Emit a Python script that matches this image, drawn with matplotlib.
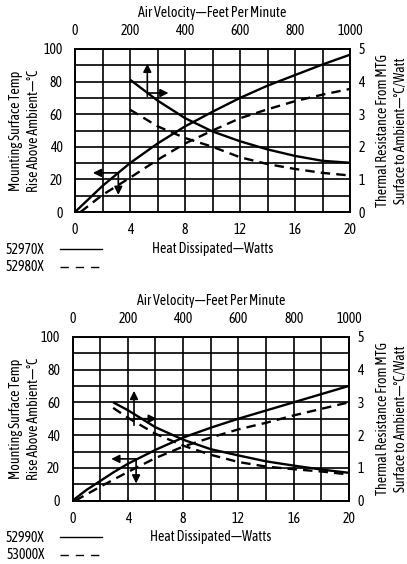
import matplotlib
matplotlib.use("Agg")
import matplotlib.pyplot as plt

plt.rcParams['font.family'] = ['Asap Condensed', 'Archivo Narrow', 'DejaVu Sans']
plt.rcParams['font.size'] = 10

# axis ticks
watt_ticks = [0, 4, 8, 12, 16, 20]
temp_ticks = [0, 20, 40, 60, 80, 100]
fpm_ticks = [0, 200, 400, 600, 800, 1000]
res_ticks = [0, 1, 2, 3, 4, 5]

# top chart: 52970X (solid) / 52980X (dashed)
top_names = ["52970X", "52980X"]
top_watts_a = [0, 1, 2, 3, 4, 6, 8, 10, 12, 14, 16, 18, 20]
top_temp_a = [0, 8, 16, 23, 30, 42, 52.5, 61.5, 70, 77.5, 84, 90.5, 96.5]
top_watts_b = [0.4, 2, 4, 6, 8, 10, 12, 14, 16, 18, 20]
top_temp_b = [0, 10.5, 21, 32, 42, 50, 57.5, 63, 68, 72, 75.5]
top_fpm_a = [200, 300, 400, 500, 600, 700, 800, 900, 1000]
top_res_a = [4.06, 3.42, 2.88, 2.47, 2.17, 1.92, 1.72, 1.57, 1.51]
top_fpm_b = [200, 300, 400, 500, 600, 700, 800, 900, 1000]
top_res_b = [3.14, 2.63, 2.27, 2.0, 1.68, 1.47, 1.32, 1.2, 1.12]

# bottom chart: 52990X (solid) / 53000X (dashed)
bot_names = ["52990X", "53000X"]
bot_watts_a = [0, 1, 2, 3, 4, 6, 8, 10, 12, 14, 16, 18, 20]
bot_temp_a = [0, 6.5, 12, 17.5, 22.5, 31, 38.5, 44.5, 50, 55, 60, 65, 70]
bot_watts_b = [0.2, 2, 4, 6, 8, 10, 12, 14, 16, 18, 20]
bot_temp_b = [0, 8.5, 17.5, 26, 33, 38.5, 43.5, 47.5, 52, 56, 60]
bot_fpm_a = [147, 200, 300, 400, 500, 600, 700, 800, 900, 1000]
bot_res_a = [3.0, 2.76, 2.24, 1.86, 1.57, 1.38, 1.2, 1.07, 0.95, 0.85]
bot_fpm_b = [147, 200, 300, 400, 500, 600, 700, 800, 900, 1000]
bot_res_b = [2.83, 2.53, 2.04, 1.68, 1.4, 1.18, 1.04, 0.96, 0.89, 0.8]

# pointer arrows (watts, temp): corner, vertical tip, horizontal tip
top_res_arrow = [(5.26, 71), (5.26, 91), (6.8, 73)]
top_temp_arrow = [(3.15, 24), (3.15, 10.5), (1.3, 24)]
bot_res_arrow = [(4.45, 46), (4.45, 67), (6.1, 50)]
bot_temp_arrow = [(4.6, 25.5), (4.6, 10.5), (2.8, 25.5)]

W, H = 407, 564
fig = plt.figure(figsize=(W / 100, H / 100), dpi=100)
fig.patch.set_facecolor("white")

DASH = (0, (4, 2.6))
FS = 10


def fx(px):
    return px / W


def fy(py):
    return 1 - py / H


def arrow(ax, start, tip):
    ax.annotate("", xy=tip, xytext=start,
                arrowprops=dict(arrowstyle="-|>", lw=1.2, color="k",
                                mutation_scale=12, shrinkA=0, shrinkB=0))


def panel(box, watts_a, temp_a, watts_b, temp_b, fpm_a, res_a, fpm_b, res_b,
          res_arrow, temp_arrow, names, title_y, xlabel_y):
    left, top, right, bottom = box
    ax = fig.add_axes([fx(left), fy(bottom), fx(right - left), (bottom - top) / H])
    ax.set_xlim(0, 20)
    ax.set_ylim(0, 100)
    ax.set_xticks(range(0, 21, 2))
    ax.set_xticklabels([str(v) if v in watt_ticks else "" for v in range(0, 21, 2)])
    ax.set_yticks(range(0, 101, 10))
    ax.set_yticklabels([str(v) if v in temp_ticks else "" for v in range(0, 101, 10)])
    ax.grid(True, color="k", lw=1.2)
    ax.tick_params(length=0, labelsize=FS)
    ax.tick_params(axis="y", pad=9)
    ax.tick_params(axis="x", pad=8)
    for s in ax.spines.values():
        s.set_linewidth(1.4)

    axr = ax.twinx()
    axr.set_ylim(0, 5)
    axr.set_yticks(res_ticks)
    axr.tick_params(length=0, pad=6, labelsize=FS)
    axt = axr.twiny()
    axt.set_xlim(0, 1000)
    axt.set_xticks(fpm_ticks)
    axt.tick_params(length=0, pad=8, labelsize=FS)
    for a in (axr, axt):
        for s in a.spines.values():
            s.set_visible(False)

    ax.plot(watts_a, temp_a, color="k", lw=1.7, solid_capstyle="butt")
    ax.plot(watts_b, temp_b, color="k", lw=1.7, linestyle=DASH)
    axt.plot(fpm_a, res_a, color="k", lw=1.7, solid_capstyle="butt")
    axt.plot(fpm_b, res_b, color="k", lw=1.7, linestyle=DASH)

    arrow(ax, res_arrow[0], res_arrow[1])
    arrow(ax, (res_arrow[0][0], res_arrow[2][1]), res_arrow[2])
    arrow(ax, temp_arrow[0], temp_arrow[1])
    arrow(ax, temp_arrow[0], temp_arrow[2])

    cx = (left + right) / 2
    cy = (top + bottom) / 2
    fig.text(fx(cx), fy(title_y), "Air Velocity\u2014Feet Per Minute",
             ha="center", va="center", fontsize=FS)
    fig.text(fx(cx), fy(xlabel_y), "Heat Dissipated\u2014Watts",
             ha="center", va="center", fontsize=FS)
    fig.text(fx(25), fy(cy), "Mounting Surface Temp\nRise Above Ambient\u2014\u00b0C",
             ha="center", va="center", rotation=90, fontsize=FS, linespacing=1.35)
    fig.text(fx(392), fy(cy), "Thermal Resistance From MTG\nSurface to Ambient\u2014\u00b0C/Watt",
             ha="center", va="center", rotation=90, fontsize=FS, linespacing=1.35)

    handles = [plt.Line2D([], [], color="k", lw=1.0),
               plt.Line2D([], [], color="k", lw=1.0, linestyle=(0, (6, 5)))]
    fig.legend(handles, names, loc="upper left", markerfirst=False,
               bbox_to_anchor=(fx(6), fy(xlabel_y - 6)), frameon=False,
               fontsize=FS, handlelength=3.0, handletextpad=1.1,
               labelspacing=0.25, borderaxespad=0, borderpad=0)


panel((75, 49, 350, 212), top_watts_a, top_temp_a, top_watts_b, top_temp_b,
      top_fpm_a, top_res_a, top_fpm_b, top_res_b,
      top_res_arrow, top_temp_arrow, top_names, 13, 249)
panel((72.5, 336.7, 349, 500.7), bot_watts_a, bot_temp_a, bot_watts_b, bot_temp_b,
      bot_fpm_a, bot_res_a, bot_fpm_b, bot_res_b,
      bot_res_arrow, bot_temp_arrow, bot_names, 301, 537)

fig.savefig("out.png", dpi=100)
